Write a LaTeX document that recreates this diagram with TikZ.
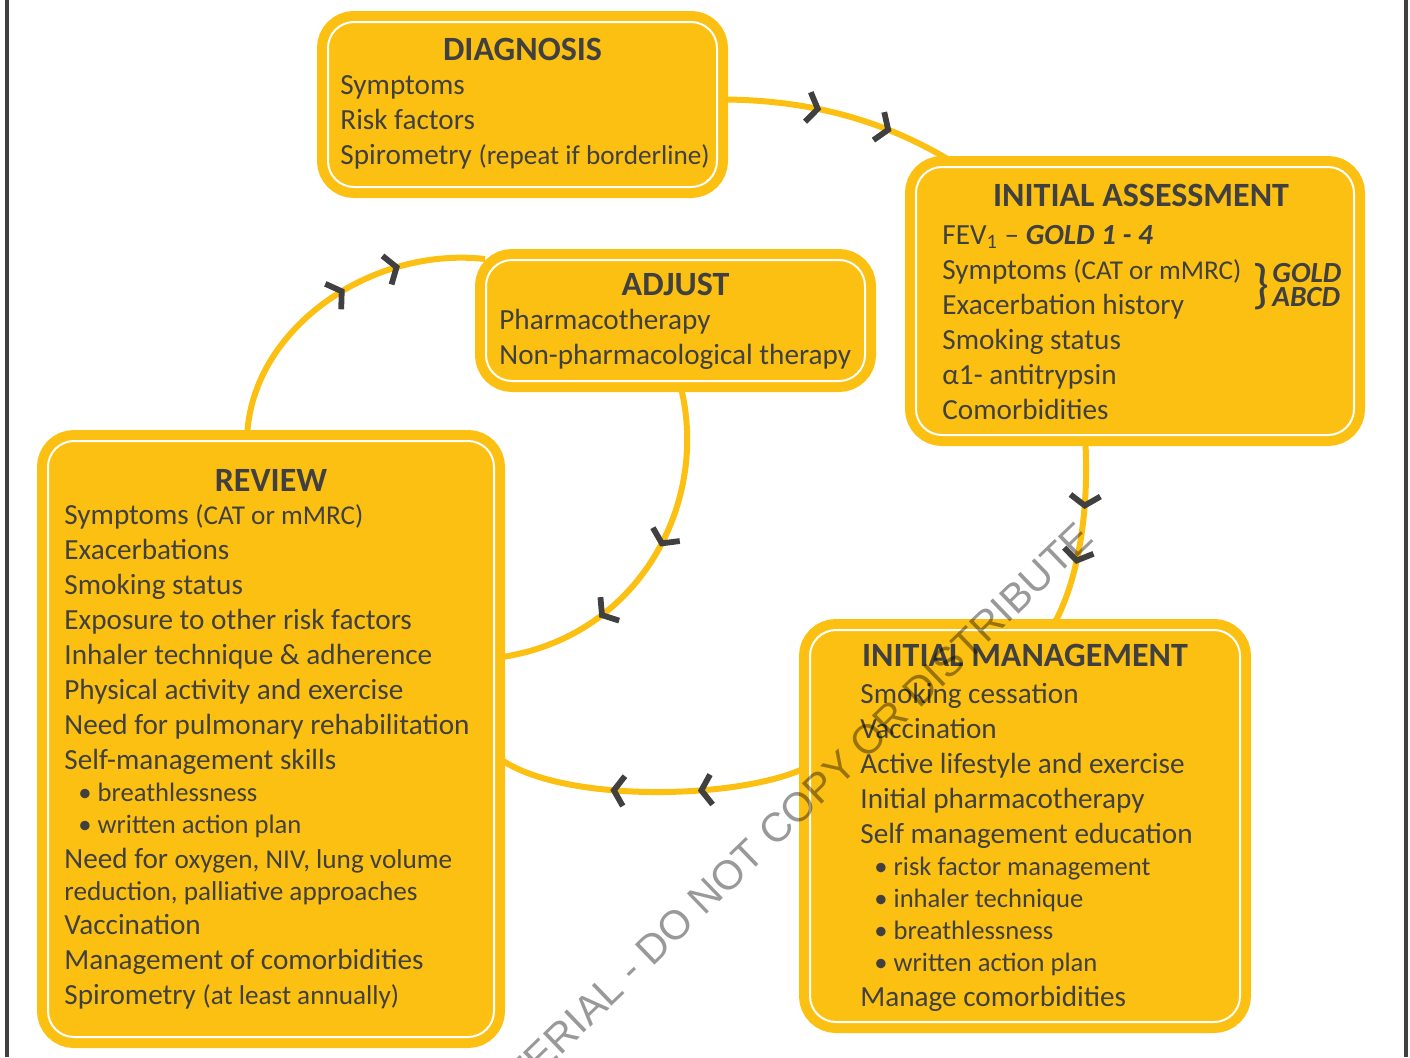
\documentclass[tikz,border=0pt]{standalone}
\usepackage{fontspec}
\setmainfont{Carlito}
\newfontfamily\wmfont{Liberation Sans}
\usepackage{tikz}
\usetikzlibrary{positioning,backgrounds,decorations.markings}
\definecolor{goldyellow}{RGB}{252,192,18}
\definecolor{golddark}{RGB}{64,64,64}
\tikzstyle{stagebox} = [rectangle, rounded corners=13pt, fill=goldyellow, draw=white, line width=1pt, preaction={draw=goldyellow, line width=11pt}, inner sep=0pt]
\tikzstyle{stagetitle} = [font=\fontsize{17}{19}\selectfont\bfseries, text=golddark, inner sep=0pt]
\tikzstyle{stagetext} = [font=\fontsize{14.6}{17.5}\selectfont, text=golddark, align=left, inner sep=0pt]
\tikzstyle{cycleline} = [line width=3pt, draw=goldyellow]
\tikzstyle{chevron} = [line width=2.9pt, draw=golddark]
\tikzset{chevrons/.style 2 args={postaction={decorate, decoration={markings,
    mark=at position #1 with {\draw[chevron] (-3pt,7.5pt) -- (2pt,0pt) -- (-3pt,-7.5pt);},
    mark=at position #2 with {\draw[chevron] (-3pt,7.5pt) -- (2pt,0pt) -- (-3pt,-7.5pt);}}}}}
\newcommand{\smallpart}[1]{{\fontsize{13.6}{17.5}\selectfont #1}}
\newcommand{\bulletline}[1]{\hspace*{7pt}{\fontsize{13.3}{17.5}\selectfont\textbullet\ #1}}

\begin{document}
\begin{tikzpicture}[x=0.5pt, y=-0.5pt]
    \useasboundingbox (0,0) rectangle (1410,1057);

    % Boxes
    \node[stagebox, minimum width=194.5pt, minimum height=82.5pt] (diag) at (522.5,104.5) {};
    \node[stagebox, minimum width=219pt, minimum height=134pt] (assess) at (1135,301) {};
    \node[stagebox, minimum width=189.5pt, minimum height=60.5pt] (adjust) at (675.5,320.5) {};
    \node[stagebox, minimum width=223pt, minimum height=298pt] (review) at (271,739) {};
    \node[stagebox, minimum width=215pt, minimum height=196pt] (manage) at (1025,826) {};

    % Titles
    \node[stagetitle] (diag-title) at ([yshift=-14pt]diag.north) {DIAGNOSIS};
    \node[stagetitle] (assess-title) at ([xshift=3pt,yshift=-14.5pt]assess.north) {INITIAL ASSESSMENT};
    \node[stagetitle] (adjust-title) at ([yshift=-12.5pt]adjust.north) {ADJUST};
    \node[stagetitle] (review-title) at ([yshift=-20pt]review.north) {REVIEW};
    \node[stagetitle] (manage-title) at ([yshift=-13pt]manage.north) {INITIAL MANAGEMENT};

    % Texts
    \node[stagetext, below right=27pt and 6.5pt of diag.north west] (diag-text)
        {Symptoms\\Risk factors\\Spirometry \smallpart{(repeat if borderline)}};
    \node[stagetext, below right=29.5pt and 13.5pt of assess.north west] (assess-text)
        {FEV\textsubscript{1} – \textbf{\textit{GOLD 1 - 4}}\\
         Symptoms \smallpart{(CAT or mMRC)}\\
         Exacerbation history\\
         Smoking status\\
         α1- antitrypsin\\
         Comorbidities};
    \node[text=golddark, font=\fontsize{27}{27}\selectfont, inner sep=0pt] (gold-brace) at (1261,287) {\}};
    \node[text=golddark, font=\fontsize{14.6}{12}\selectfont\bfseries\itshape, align=left, inner sep=0pt, anchor=west] (gold-abcd) at (1272,285) {GOLD\\ABCD};
    \node[stagetext, below right=25pt and 7pt of adjust.north west] (adjust-text)
        {Pharmacotherapy\\Non-pharmacological therapy};
    \node[stagetext, below right=32pt and 8.5pt of review.north west] (review-text)
        {Symptoms \smallpart{(CAT or mMRC)}\\
         Exacerbations\\
         Smoking status\\
         Exposure to other risk factors\\
         Inhaler technique \& adherence\\
         Physical activity and exercise\\
         Need for pulmonary rehabilitation\\
         Self-management skills\\[-1.5pt]
         \bulletline{breathlessness}\\[-1.5pt]
         \bulletline{written action plan}\\
         Need for \smallpart{oxygen, NIV, lung volume}\\[-1.5pt]
         \smallpart{reduction, palliative approaches}\\[-0.5pt]
         Vaccination\\
         Management of comorbidities\\
         Spirometry \smallpart{(at least annually)}};
    \node[stagetext, below right=27pt and 25.5pt of manage.north west] (manage-text)
        {Smoking cessation\\
         Vaccination\\
         Active lifestyle and exercise\\
         Initial pharmacotherapy\\
         Self management education\\[-1.5pt]
         \bulletline{risk factor management}\\[-1.5pt]
         \bulletline{inhaler technique}\\[-1.5pt]
         \bulletline{breathlessness}\\[-1.5pt]
         \bulletline{written action plan}\\
         Manage comorbidities};

    % Cycle
    \begin{scope}[on background layer]
    \draw[cycleline, chevrons={0.38}{0.67}] ([yshift=2.5pt]diag.east) .. controls (830,99) and (905,132) .. ([xshift=22pt]assess.north west);
    \draw[cycleline, chevrons={0.33}{0.61}] ([xshift=-25pt]assess.south) .. controls (1090,510) and (1078,585) .. ([xshift=13pt]manage.north);
    \draw[cycleline, chevrons={0.33}{0.6}] ([yshift=30pt]manage.west) .. controls (745,800) and (555,805) .. ([yshift=-8pt]review.east);
    \draw[cycleline, chevrons={0.54}{0.72}] ([xshift=-12pt]review.north) .. controls (249,330) and (370,246) .. (adjust.north west);
    \draw[cycleline, chevrons={0.43}{0.68}] ([xshift=2pt]adjust.south) .. controls (712,500) and (640,640) .. ([yshift=40.5pt]review.east);
    \end{scope}

    % Frame
    \draw[line width=2pt, golddark] (7,0) -- (7,1057);
    \draw[line width=2pt, golddark] (1406,0) -- (1406,1057);

    % Watermark
    \node[font=\wmfont\fontsize{20.5}{21}\selectfont, text=black, text opacity=0.4, rotate=44, anchor=base east, inner sep=0pt] (watermark) at (1095,540) {COPYRIGHTED MATERIAL - DO NOT COPY OR DISTRIBUTE};
\end{tikzpicture}
\end{document}
